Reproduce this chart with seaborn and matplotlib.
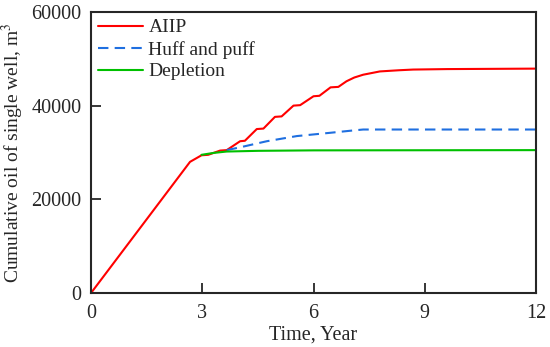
import numpy as np
import pandas as pd
import seaborn as sns
import matplotlib.pyplot as plt

# values (year, m3)
aiip_t = [0, 2.67, 2.98, 3.16, 3.48, 3.66, 4.02, 4.15, 4.47, 4.65, 4.96, 5.14, 5.46, 5.64,
          6.0, 6.16, 6.46, 6.67, 6.89, 7.1, 7.34, 7.79, 8.3, 8.69, 9.6, 12]
aiip_v = [0, 28000, 29400, 29500, 30400, 30500, 32400, 32500, 35000, 35100, 37600, 37700,
          40000, 40100, 42000, 42100, 43900, 44000, 45200, 46000, 46600, 47300, 47550, 47700, 47800, 47900]

huff_t = [3.66, 4.02, 4.74, 5.55, 6.45, 7.07, 7.34, 8.0, 12]
huff_v = [30500, 31100, 32400, 33500, 34200, 34700, 34900, 34900, 34900]

depl_t = [2.98, 3.3, 3.66, 4.5, 6.0, 12]
depl_v = [29500, 29900, 30200, 30350, 30450, 30500]

sns.set_style("ticks")
plt.rcParams['font.family'] = ['Liberation Serif', 'DejaVu Serif']
plt.rcParams['mathtext.fontset'] = 'stix'

fig = plt.figure(figsize=(5.5, 3.47), dpi=100)
ax = fig.add_axes([0.1655, 0.1556, 0.809, 0.81])

sns.lineplot(x=aiip_t, y=aiip_v, color='#ff0000', lw=1.5, label='AIIP', ax=ax)
sns.lineplot(x=huff_t, y=huff_v, color='#1f6fe0', lw=1.5, ls=(0, (5, 3)), label='Huff and puff', ax=ax)
sns.lineplot(x=depl_t, y=depl_v, color='#00c000', lw=1.5, label='Depletion', ax=ax)

ax.set_xlim(0, 12)
ax.set_ylim(0, 60000)
ax.set_xticks([0, 3, 6, 9, 12])
ax.set_yticks([0, 20000, 40000, 60000])
ax.tick_params(direction='in', length=7, width=1.3, labelsize=14.5)
ax.tick_params(axis='x', pad=8)
ax.tick_params(axis='y', pad=7)
for s in ax.spines.values():
    s.set_linewidth(1.5)
ax.set_xlabel('Time, Year', fontsize=14.5, labelpad=2)
ax.set_ylabel('Cumulative oil of single well, m$^3$', fontsize=14, labelpad=4)
ax.legend(loc='upper left', frameon=False, fontsize=14, handlelength=2.3,
          labelspacing=0.22, borderaxespad=0.0, borderpad=0.35, handletextpad=0.3)

fig.savefig('out.png', dpi=100)
